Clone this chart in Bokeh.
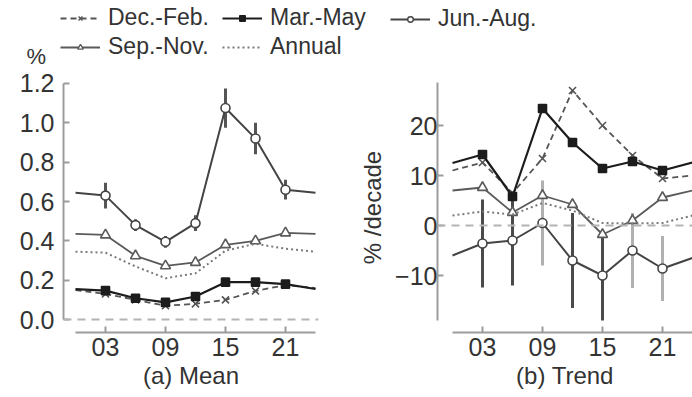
from bokeh.plotting import figure
from bokeh.layouts import column, row
from bokeh.models import (ColumnDataSource, FixedTicker, Legend, LegendItem,
                          Label, Span, Range1d)
from bokeh.embed import file_html
from bokeh.resources import INLINE

# ---------------- data ----------------
# Local hour of day; the curves wrap from 00 to 24, markers sit at 03..21
hours = [0, 3, 6, 9, 12, 15, 18, 21, 24]
marker_hours = [3, 6, 9, 12, 15, 18, 21]
tick_hours = [3, 9, 15, 21]
tick_labels = ["03", "09", "15", "21"]

season_names = ["Dec.-Feb.", "Mar.-May", "Jun.-Aug.", "Sep.-Nov.", "Annual"]

# (a) mean frequency, %
mean_djf = [0.15, 0.13, 0.10, 0.07, 0.08, 0.10, 0.145, 0.175, 0.16]
mean_mam = [0.155, 0.147, 0.108, 0.087, 0.117, 0.19, 0.19, 0.18, 0.155]
mean_jja = [0.645, 0.63, 0.48, 0.395, 0.49, 1.075, 0.92, 0.66, 0.645]
mean_son = [0.435, 0.43, 0.324, 0.273, 0.29, 0.38, 0.40, 0.44, 0.435]
mean_ann = [0.345, 0.34, 0.27, 0.21, 0.235, 0.35, 0.385, 0.36, 0.345]
mean_jja_err = [0.065, 0.03, 0.03, 0.04, 0.10, 0.08, 0.05]

# (b) linear trend, % per decade
trend_djf = [11, 12.6, 6.5, 13.4, 27, 20, 14, 9.4, 10]
trend_mam = [12.5, 14.2, 5.8, 23.4, 16.6, 11.4, 12.8, 11, 12.6]
trend_jja = [-6, -3.6, -3, 0.5, -7, -10, -5, -8.6, -6.5]
trend_son = [7, 7.6, 2.6, 6, 4.2, -1.8, 1, 5.6, 7]
trend_ann = [2, 2.8, 2.2, 4.5, 3, 0.5, 0.4, 0.5, 2]
trend_jja_err = [8.8, 9, 8.5, 9.5, 9, 7.5, 6.5]
trend_jja_significant = [True, True, False, True, True, False, False]

# ---------------- styles ----------------
FONT = "Liberation Sans"
AXIS_GREY = "#9c9c9c"
TEXT = "#333333"

styles = {
    "Dec.-Feb.": dict(color="#555555", dash="6 4", width=1.8, marker="x", size=10, fill="#555555"),
    "Mar.-May": dict(color="#1c1c1c", dash="solid", width=2.2, marker="square", size=8, fill="#1c1c1c"),
    "Jun.-Aug.": dict(color="#444444", dash="solid", width=2.0, marker="circle", size=9, fill="#ffffff"),
    "Sep.-Nov.": dict(color="#5a5a5a", dash="solid", width=1.8, marker="triangle", size=10, fill="#ffffff"),
    "Annual": dict(color="#7a7a7a", dash="2 3", width=2.0, marker=None, size=0, fill=None),
}


def draw_series(p, name, values):
    st = styles[name]
    p.line(hours, values, line_color=st["color"], line_dash=st["dash"],
           line_width=st["width"])
    if st["marker"]:
        p.scatter(marker_hours, values[1:-1], marker=st["marker"], size=st["size"],
                  line_color=st["color"], fill_color=st["fill"], line_width=1.6)


def draw_errorbars(p, centers, errs, colors):
    mid = centers[1:-1]
    src = ColumnDataSource(dict(
        h=marker_hours,
        lo=[c - e for c, e in zip(mid, errs)],
        hi=[c + e for c, e in zip(mid, errs)],
        col=colors,
    ))
    p.segment(x0="h", y0="lo", x1="h", y1="hi", line_color="col",
              line_width=3, source=src)


def style_axes(p):
    for ax in list(p.xaxis) + list(p.yaxis):
        ax.axis_line_color = AXIS_GREY
        ax.axis_line_width = 2
        ax.major_tick_line_color = AXIS_GREY
        ax.major_tick_line_width = 2
        ax.major_tick_in = 6
        ax.major_tick_out = 0
        ax.minor_tick_line_color = None
        ax.major_label_text_font = FONT
        ax.major_label_text_font_size = "25px"
        ax.major_label_text_color = TEXT
        ax.axis_label_text_font = FONT
        ax.axis_label_text_font_size = "24px"
        ax.axis_label_text_font_style = "normal"
        ax.axis_label_text_color = TEXT
    p.xaxis.ticker = FixedTicker(ticks=tick_hours)
    p.xaxis.major_label_overrides = {h: s for h, s in zip(tick_hours, tick_labels)}
    p.xaxis.bounds = (0, 24)
    p.xaxis.major_label_standoff = 5
    p.xaxis.axis_label_standoff = 3
    p.yaxis.major_label_standoff = 9
    p.grid.visible = False
    p.outline_line_color = None


def zero_line(p):
    p.add_layout(Span(location=0, dimension="width", line_color="#b4b4b4",
                      line_dash="8 6", line_width=2))


# ---------------- legend strip ----------------
leg = figure(width=692, height=70, x_range=Range1d(0, 1), y_range=Range1d(0, 1),
             toolbar_location=None, output_backend="svg", min_border=0,
             x_axis_type=None, y_axis_type=None, outline_line_color=None)

NAN = float("nan")


def legend_item(name):
    # one undefined point per renderer: nothing is drawn in the strip itself,
    # but the legend gets a sample of each series style
    st = styles[name]
    rs = [leg.line(x=[NAN], y=[NAN], line_color=st["color"], line_dash=st["dash"],
                   line_width=st["width"])]
    if st["marker"]:
        rs.append(leg.scatter(x=[NAN], y=[NAN], marker=st["marker"], size=6,
                              line_color=st["color"], fill_color=st["fill"],
                              line_width=1.4))
    return LegendItem(label=name, renderers=rs)


def add_legend(names, x, bottom):
    lg = Legend(items=[legend_item(n) for n in names], location=(x, bottom),
                orientation="vertical", glyph_width=40, glyph_height=14,
                label_standoff=8, spacing=2, padding=0, margin=0,
                border_line_color=None, background_fill_alpha=0,
                label_text_font=FONT, label_text_font_size="23px",
                label_text_color=TEXT)
    leg.add_layout(lg)


add_legend(["Dec.-Feb.", "Sep.-Nov."], 60, 10)
add_legend(["Mar.-May", "Annual"], 222, 10)
add_legend(["Jun.-Aug."], 390, 38)
leg.add_layout(Label(x=26, y=14, x_units="screen", y_units="screen", text="%",
                     text_font=FONT, text_font_size="22px", text_color=TEXT,
                     text_baseline="middle"))

# ---------------- (a) mean ----------------
pa = figure(width=346, height=327, x_range=Range1d(-1.2, 24.3),
            y_range=Range1d(-0.066, 1.205), min_border_left=63,
            min_border_right=28, min_border_top=12, min_border_bottom=65,
            toolbar_location=None, output_backend="svg")
style_axes(pa)
pa.yaxis.ticker = FixedTicker(ticks=[0, 0.2, 0.4, 0.6, 0.8, 1.0, 1.2])
pa.yaxis.major_label_overrides = {0: "0.0", 0.2: "0.2", 0.4: "0.4", 0.6: "0.6",
                                  0.8: "0.8", 1.0: "1.0", 1.2: "1.2"}
pa.yaxis.bounds = (0, 1.2)
pa.xaxis.axis_label = "(a) Mean"
zero_line(pa)
draw_errorbars(pa, mean_jja, mean_jja_err, ["#555555"] * len(mean_jja_err))
for name, vals in zip(season_names, [mean_djf, mean_mam, mean_jja, mean_son, mean_ann]):
    draw_series(pa, name, vals)

# ---------------- (b) trend ----------------
pb = figure(width=346, height=327, x_range=Range1d(-1.5, 24),
            y_range=Range1d(-21.4, 28.6), min_border_left=91,
            min_border_right=0, min_border_top=12, min_border_bottom=65,
            toolbar_location=None, output_backend="svg")
style_axes(pb)
pb.yaxis.ticker = FixedTicker(ticks=[-10, 0, 10, 20])
pb.yaxis.bounds = (-19, 28.6)
pb.yaxis.major_label_standoff = 0
pb.yaxis.axis_label = "% /decade"
pb.yaxis.axis_label_standoff = 6
pb.xaxis.axis_label = "(b) Trend"
zero_line(pb)
draw_errorbars(pb, trend_jja, trend_jja_err,
               ["#4a4a4a" if s else "#b0b0b0" for s in trend_jja_significant])
for name, vals in zip(season_names, [trend_djf, trend_mam, trend_jja, trend_son, trend_ann]):
    draw_series(pb, name, vals)

layout = column(leg, row(pa, pb))
open("out.html", "w").write(file_html(layout, INLINE))
